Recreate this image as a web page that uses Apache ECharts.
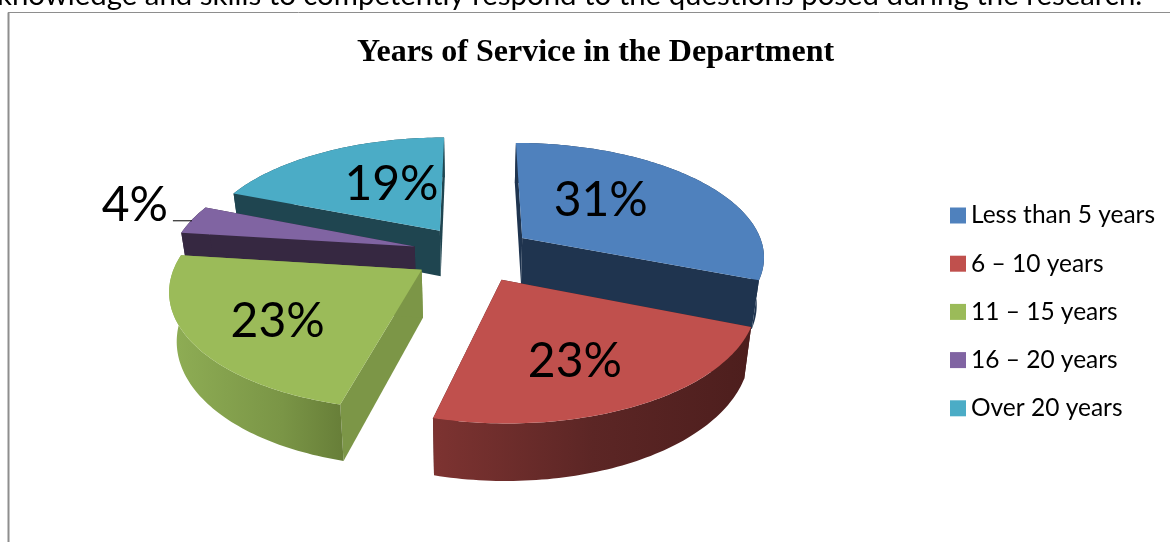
<!DOCTYPE html>
<html>
<head>
<meta charset="utf-8">
<style>html,body{margin:0;padding:0;background:#fff}#chart{width:1170px;height:542px}</style>
<script src="https://cdn.jsdelivr.net/npm/echarts@6/dist/echarts.min.js"></script>
</head>
<body>
<div id="chart"></div>
<script>
// Share of respondents by years of service, in percent
const categories = ['Less than 5 years', '6 – 10 years', '11 – 15 years', '16 – 20 years', 'Over 20 years'];
const shares = [31, 23, 23, 4, 19];

const topColors = ['#4f81bd', '#c0504d', '#9bbb59', '#8064a2', '#4bacc6'];
const wallColors = ['#1f344f', '#4e1f1e', '#7c9647', '#362841', '#1f4550'];
const rimStops = [
  [[0, '#1f344f'], [1, '#1f344f']],
  [[0, '#7d3331'], [0.5, '#5c2625'], [1, '#4d1e1d']],
  [[0, '#8fae55'], [0.65, '#7a9546'], [1, '#677e38']],
  [[0, '#362841'], [1, '#362841']],
  [[0, '#1f4550'], [1, '#1f4550']]
];
const stacking = [4, 6, 5, 3, 2];

// Projection of the tilted pie onto the page
const CX = 473, CY = 253.5, RX = 243, RY = 113.5, EXPLODE = 0.25, PERSP = 0.15, DEPTH = 47, SHRINK = 0.975;
// Where each percentage sits: fraction of the radius along the slice bisector, plus a nudge
const labelFraction = [0.5, 0.72, 0.72, 1, 0.42];
const labelNudge = [[-14, -8], [-21, -5], [17, 1], [-57, -14], [3, -11]];
const LABEL_FONT = '48px Lato, sans-serif';

const total = shares.reduce((a, b) => a + b, 0);

function planar(angle, radius, apex) {
  return [apex[0] + Math.sin(angle) * radius, apex[1] - Math.cos(angle) * radius];
}
function toTop(p) {
  const d = 1 / (1 - PERSP * p[1]);
  return [CX + RX * p[0] * d, CY + RY * p[1] * d];
}
function toBottom(p) {
  const d = 1 / (1 - PERSP * p[1]);
  return [CX + RX * p[0] * d * SHRINK, CY + RY * p[1] * d + DEPTH * d];
}
function arc(a0, a1, apex) {
  const pts = [];
  const steps = Math.max(4, Math.ceil((a1 - a0) / 0.02));
  for (let i = 0; i <= steps; i++) pts.push(planar(a0 + (a1 - a0) * i / steps, 1, apex));
  return pts;
}
function quad(a, b, fill) {
  const pts = [toTop(a), toTop(b), toBottom(b), toBottom(a)];
  return { type: 'polygon', shape: { points: pts }, style: { fill: fill } };
}

function sliceRenderer(index) {
  const before = shares.slice(0, index).reduce((a, b) => a + b, 0);
  return function (params, api) {
    const value = api.value(0);
    const a0 = before / total * Math.PI * 2;
    const a1 = (before + value) / total * Math.PI * 2;
    const mid = (a0 + a1) / 2;
    const apex = planar(mid, EXPLODE, [0, 0]);
    const rim = arc(a0, a1, apex);
    const children = [];
    children.push(quad(apex, rim[0], wallColors[index]));
    children.push(quad(apex, rim[rim.length - 1], wallColors[index]));
    // Outer wall, shaded from left to right
    const rimPts = rim.map(toTop).concat(rim.slice().reverse().map(toBottom));
    children.push({
      type: 'polygon',
      shape: { points: rimPts },
      style: {
        fill: {
          type: 'linear', x: 0, y: 0, x2: 1, y2: 0,
          colorStops: rimStops[index].map(s => ({ offset: s[0], color: s[1] }))
        }
      }
    });
    // Upper face
    children.push({
      type: 'polygon',
      shape: { points: [apex].concat(rim).map(toTop) },
      style: { fill: topColors[index] }
    });
    const at = toTop(planar(mid, labelFraction[index], apex));
    const lx = at[0] + labelNudge[index][0], ly = at[1] + labelNudge[index][1];
    children.push({
      type: 'text',
      style: { text: value + '%', x: lx, y: ly, fill: '#000', font: LABEL_FONT, align: 'center', verticalAlign: 'middle' }
    });
    if (labelFraction[index] >= 1) {
      // Short leader from an outside label towards its slice
      children.push({
        type: 'line',
        shape: { x1: lx + 38, y1: ly + 15, x2: lx + 57, y2: ly + 15 },
        style: { stroke: '#000', lineWidth: 1 }
      });
    }
    return { type: 'group', children: children };
  };
}

const chart = echarts.init(document.getElementById('chart'), null, { renderer: 'canvas' });
chart.setOption({
  animation: false,
  backgroundColor: '#fff',
  title: {
    text: 'Years of Service in the Department',
    left: 590.5, top: 32, textAlign: 'center',
    textStyle: { fontFamily: '"Liberation Serif", serif', fontWeight: 'bold', fontSize: 32, color: '#000' }
  },
  legend: {
    data: categories, orient: 'vertical', left: 945, top: 198,
    icon: 'rect', itemWidth: 16, itemHeight: 16, itemGap: 23.2,
    textStyle: { fontFamily: 'Lato, sans-serif', fontSize: 24.5, color: '#000' },
    itemStyle: { borderWidth: 0 }
  },
  graphic: [
    { type: 'line', shape: { x1: 8.5, y1: 12.5, x2: 8.5, y2: 542 }, style: { stroke: '#8e8e8e', lineWidth: 2 } },
    { type: 'line', shape: { x1: 8, y1: 12.5, x2: 1170, y2: 12.5 }, style: { stroke: '#8e8e8e', lineWidth: 1 } },
    {
      type: 'text', x: -3, y: -19,
      style: {
        text: 'knowledge and skills to competently respond to the questions posed during the research.',
        font: '29.4px Lato, sans-serif', fill: '#000'
      }
    }
  ],
  series: categories.map((name, i) => ({
    type: 'custom',
    name: name,
    coordinateSystem: 'none',
    z: stacking[i],
    itemStyle: { color: topColors[i] },
    renderItem: sliceRenderer(i),
    data: [shares[i]]
  }))
});
</script>
</body>
</html>
